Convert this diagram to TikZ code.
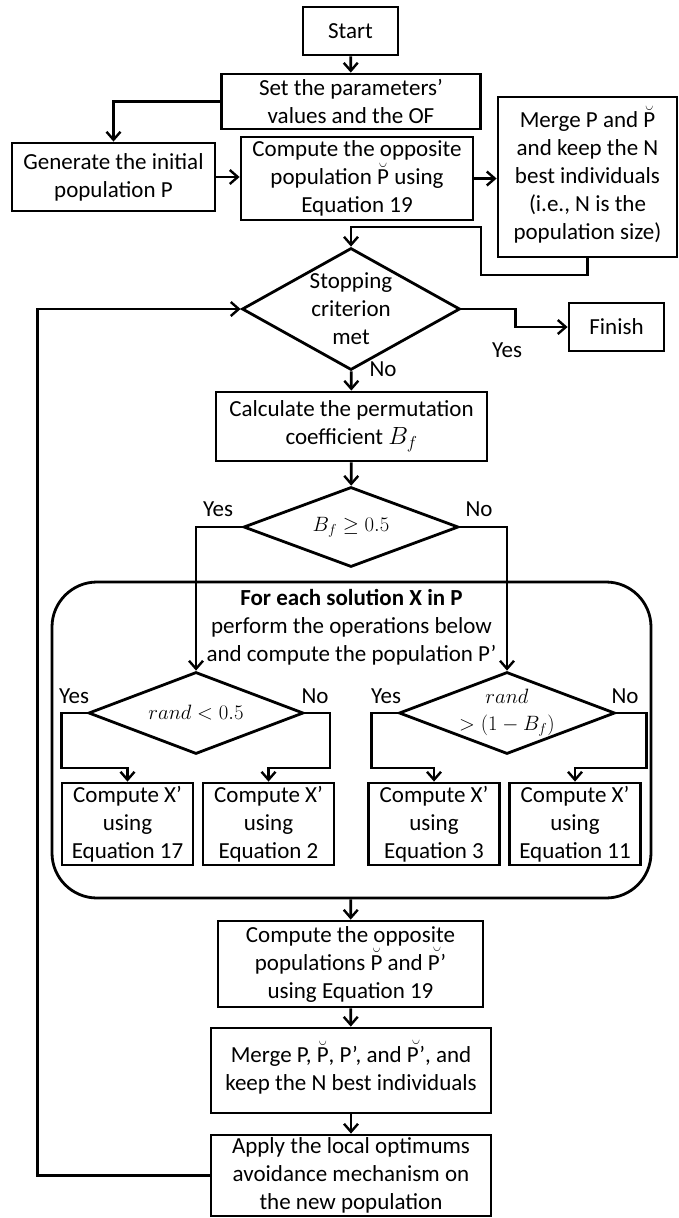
\documentclass[tikz,border=0pt]{standalone}
\usepackage{fontspec}
\setmainfont{Carlito}
\usetikzlibrary{arrows.meta,shapes.geometric}
\newcommand{\brP}{\smash{$\breve{\mbox{P}}$}}
\newcommand{\brPp}{\smash{$\breve{\mbox{P’}}$}}

\begin{document}
\begin{tikzpicture}[
    x = 1pt,
    y = -1pt,
    line width = 2.8pt,
    >={Straight Barb[length=8pt,width=14pt,line width=2.4pt]},
    font = \fontsize{23}{28}\selectfont,
    box/.style = {
      draw,
      rectangle,
      align = center,
      inner sep = 0pt
    },
    decision/.style = {
      draw,
      diamond,
      inner sep = 0pt
    },
    cond/.style = {
      align = center,
      font = \fontsize{20}{27}\selectfont
    },
    tag/.style = {
      inner sep = 0pt
    }
  ]
\useasboundingbox (0,0) rectangle (678,1218);

% initialisation
\node[box, minimum width=95pt,  minimum height=48pt]  (start)  at (350.5,31)   {Start};
\node[box, minimum width=259pt, minimum height=55pt]  (params) at (351,101.5)  {Set the parameters’\\values and the OF};
\node[box, minimum width=203pt, minimum height=68pt]  (init)   at (113.5,177)  {Generate the initial\\population P};
\node[box, minimum width=232pt, minimum height=83pt]  (opp)    at (357,178.5)  {Compute the opposite\\population \brP{} using\\Equation 19};
\node[box, minimum width=179pt, minimum height=160pt] (merge)  at (587.5,177)  {Merge P and \brP\\and keep the N\\best individuals\\(i.e., N is the\\population size)};

% main loop
\node[decision, minimum width=218pt, minimum height=122pt,
      label={[align=center]center:Stopping\\criterion\\met}] (stop) at (351,309) {};
\node[box, minimum width=95pt,  minimum height=48pt]  (finish) at (616.5,327)  {Finish};
\node[box, minimum width=271pt, minimum height=69pt]  (perm)   at (351.5,426.5) {Calculate the permutation\\coefficient $B_f$};
\node[decision, minimum width=215pt, minimum height=80pt,
      label={[cond]center:$B_f \geq 0.5$}] (bf) at (351,527) {};

% operations on each solution
\node[draw, rounded corners=45pt, minimum width=599pt, minimum height=316pt, inner sep=0pt,
      label={[anchor=north, align=center, yshift=-4pt]north:{\bfseries For each solution X in P}\\perform the operations below\\and compute the population P’}] (ops) at (351.5,740) {};
\node[decision, minimum width=215pt, minimum height=82pt,
      label={[cond]center:$rand < 0.5$}] (randa) at (196,713) {};
\node[decision, minimum width=216pt, minimum height=82pt,
      label={[cond]center:$rand$\\$> (1 - B_f)$}] (randb) at (507,713) {};
\node[box, minimum width=131pt, minimum height=82pt] (eqa) at (127.5,824) {Compute X’\\using\\Equation 17};
\node[box, minimum width=131pt, minimum height=82pt] (eqb) at (268.5,824) {Compute X’\\using\\Equation 2};
\node[box, minimum width=131pt, minimum height=82pt] (eqc) at (434,824)   {Compute X’\\using\\Equation 3};
\node[box, minimum width=131pt, minimum height=82pt] (eqd) at (575,824)   {Compute X’\\using\\Equation 11};

% update
\node[box, minimum width=265pt, minimum height=86pt] (oppb)   at (350.5,964)   {Compute the opposite\\populations \brP{} and \brPp\\using Equation 19};
\node[box, minimum width=280pt, minimum height=85pt] (mergeb) at (351,1070.5)  {Merge P, \brP, P’, and \brPp, and\\keep the N best individuals};
\node[box, minimum width=280pt, minimum height=81pt] (apply)  at (351,1175.5)  {Apply the local optimums\\avoidance mechanism on\\the new population};

% labels
\node[tag] (yesstop) at (507,350) {Yes};
\node[tag] (nostop)  at (383,369) {No};
\node[tag] (yesbf)   at (218,509) {Yes};
\node[tag] (nobf)    at (479,509) {No};
\node[tag] (yesa)    at (74,696)  {Yes};
\node[tag] (noa)     at (315,696) {No};
\node[tag] (yesb)    at (386,696) {Yes};
\node[tag] (nob)     at (625,696) {No};

% connectors
\draw[->] (start) -- (params);
\draw[->] (params.west) -| (init.north);
\draw[->] (init.east) -- (init.east -| opp.west);
\draw[->] (opp.east) -- (opp.east -| merge.west);
\draw[->] (merge.south) |- (481,275) |- (stop.north |- 0,227) -- (stop.north);
\draw[->] (stop.east) -- ++(54,0) |- (finish.west);
\draw[->] (stop) -- (perm);
\draw[->] (perm) -- (bf);
\draw[->] (bf.west) -| (randa.north);
\draw[->] (bf.east) -| (randb.north);

\draw[->] (randa.west) -- ++(-26,0) -- ++(0,55) -| (eqa.north);
\draw[->] (randa.east) -- ++(25,0) -- ++(0,55) -| (eqb.north);
\draw[->] (randb.west) -- ++(-26,0) -- ++(0,55) -| (eqc.north);
\draw[->] (randb.east) -- ++(30,0) -- ++(0,55) -| (eqd.north);

\draw[->] (ops) -- (oppb);
\draw[->] (oppb) -- (mergeb);
\draw[->] (mergeb) -- (apply);
\draw[->] (apply.west) -- ++(-172,0) |- (stop.west);

\end{tikzpicture}
\end{document}
